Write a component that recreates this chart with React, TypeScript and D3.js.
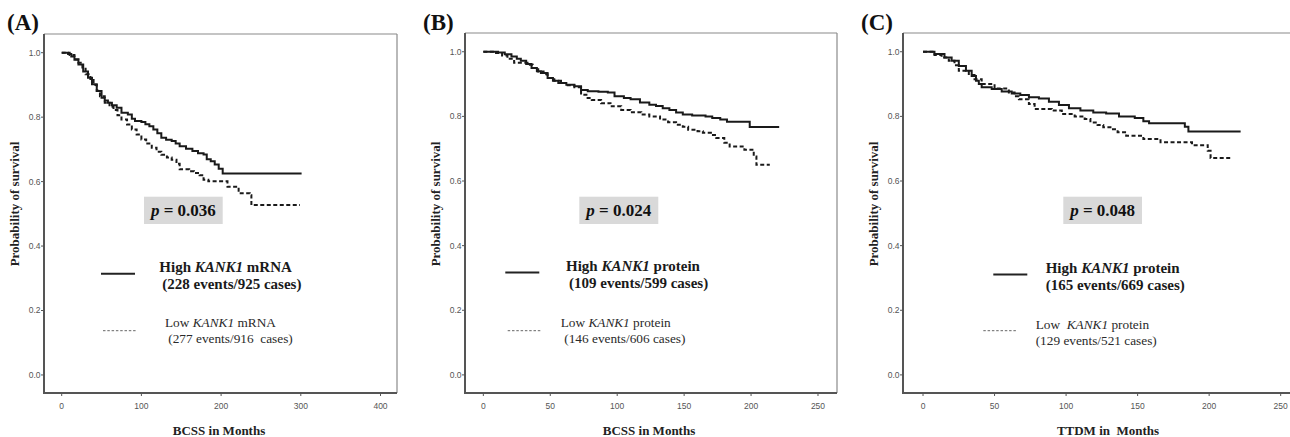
import React from "react";
import * as d3 from "d3";

// tick values
const ticksA = [0, 100, 200, 300, 400];
const ticksBC = [0, 50, 100, 150, 200, 250];
const yTicks = [0, 0.2, 0.4, 0.6, 0.8, 1.0];

// Kaplan-Meier steps: [months, survival]
const aHigh: [number, number][] = [
  [0, 1], [8, 0.996], [12, 0.988], [16, 0.978], [21, 0.963], [27, 0.942], [33, 0.922],
  [38, 0.902], [44, 0.881], [50, 0.86], [54, 0.852], [58, 0.845], [63, 0.837], [69, 0.829],
  [75, 0.814], [83, 0.808], [88, 0.795], [92, 0.788], [100, 0.785], [105, 0.778], [110, 0.772],
  [115, 0.762], [120, 0.75], [125, 0.736], [131, 0.73], [138, 0.726], [143, 0.718], [148, 0.71],
  [156, 0.702], [164, 0.695], [171, 0.688], [178, 0.684], [182, 0.669], [187, 0.663],
  [192, 0.653], [197, 0.64], [202, 0.625], [301, 0.625],
];
const aLow: [number, number][] = [
  [0, 1], [10, 0.993], [16, 0.98], [21, 0.969], [26, 0.95], [30, 0.933], [36, 0.915],
  [40, 0.9], [44, 0.882], [48, 0.865], [54, 0.845], [60, 0.832], [65, 0.822], [70, 0.806],
  [75, 0.793], [82, 0.777], [88, 0.762], [94, 0.746], [100, 0.731], [106, 0.718], [113, 0.705],
  [119, 0.693], [125, 0.683], [132, 0.675], [138, 0.668], [144, 0.655], [148, 0.638],
  [160, 0.632], [166, 0.627], [173, 0.62], [178, 0.606], [184, 0.601], [208, 0.584],
  [222, 0.564], [236, 0.558], [238, 0.527], [299, 0.527],
];
const bHigh: [number, number][] = [
  [0, 1], [11, 0.998], [16, 0.992], [21, 0.985], [25, 0.978], [28, 0.972], [32, 0.962],
  [36, 0.95], [40, 0.94], [43, 0.934], [48, 0.919], [52, 0.91], [56, 0.903], [62, 0.898],
  [68, 0.893], [73, 0.882], [78, 0.878], [86, 0.876], [93, 0.874], [98, 0.862], [105, 0.857],
  [110, 0.853], [117, 0.843], [124, 0.836], [129, 0.832], [134, 0.825], [139, 0.82],
  [144, 0.812], [149, 0.806], [156, 0.803], [166, 0.8], [171, 0.795], [177, 0.79],
  [182, 0.783], [199, 0.767], [221, 0.767],
];
const bLow: [number, number][] = [
  [0, 1], [8, 0.996], [14, 0.988], [18, 0.978], [23, 0.966], [33, 0.96], [37, 0.95],
  [41, 0.939], [45, 0.93], [48, 0.919], [53, 0.91], [58, 0.903], [63, 0.896], [68, 0.89],
  [73, 0.867], [77, 0.857], [81, 0.851], [88, 0.841], [95, 0.831], [103, 0.82], [110, 0.813],
  [118, 0.806], [124, 0.8], [132, 0.79], [138, 0.782], [144, 0.774], [149, 0.768],
  [153, 0.759], [160, 0.754], [164, 0.749], [170, 0.742], [174, 0.733], [180, 0.718],
  [184, 0.707], [195, 0.697], [202, 0.676], [204, 0.65], [214, 0.65],
];
const cHigh: [number, number][] = [
  [0, 1], [8, 0.993], [15, 0.982], [20, 0.972], [25, 0.956], [30, 0.941], [34, 0.925],
  [37, 0.91], [39, 0.9], [41, 0.89], [48, 0.885], [55, 0.877], [62, 0.871], [68, 0.866],
  [74, 0.859], [81, 0.855], [88, 0.845], [95, 0.835], [102, 0.825], [110, 0.818],
  [119, 0.812], [128, 0.809], [137, 0.8], [148, 0.795], [154, 0.785], [158, 0.779],
  [183, 0.768], [185.5, 0.753], [222, 0.753],
];
const cLow: [number, number][] = [
  [0, 1], [8, 0.99], [13, 0.982], [18, 0.972], [22, 0.958], [25, 0.941], [32, 0.928],
  [36, 0.915], [41, 0.9], [50, 0.886], [60, 0.874], [64, 0.862], [67, 0.853], [74, 0.838],
  [78, 0.823], [90, 0.818], [97, 0.807], [106, 0.8], [113, 0.792], [117, 0.781], [122, 0.773],
  [126, 0.766], [131, 0.76], [136, 0.751], [142, 0.74], [154, 0.73], [166, 0.72],
  [188, 0.711], [199, 0.694], [201, 0.671], [215, 0.671],
];

const labels = ["(A)", "(B)", "(C)"];
const pValues = ["0.036", "0.024", "0.048"];
const xTitles = ["BCSS in Months", "BCSS in Months", "TTDM in  Months"];
const markers = ["mRNA", "protein", "protein"];
const highCases = ["(228 events/925 cases)", "(109 events/599 cases)", "(165 events/669 cases)"];
const lowCases = ["(277 events/916  cases)", "(146 events/606 cases)", "(129 events/521 cases)"];
const lowGap = [" ", " ", "  "];

const serif = "'Liberation Serif', 'Times New Roman', serif";
const narrow = "'Liberation Sans Narrow', 'Arial Narrow', 'Liberation Sans', sans-serif";

const panels = [
  {
    left: 44, right: 397, top: 34, bottom: 393, xDomain: [-22.2, 420.7], xTicks: ticksA,
    high: aHigh, low: aLow, labelX: 7, pBox: [144, 222.7], titleX: 219,
    leg: { sx: [101, 135], hx: 159.3, hcx: 162.3, dx: [103, 137], lx: 165, lcx: 168.3, hb: 272.3, lb: 327.3 },
  },
  {
    left: 465, right: 837, top: 33, bottom: 393, xDomain: [-13.7, 264.2], xTicks: ticksBC,
    high: bHigh, low: bLow, labelX: 423, pBox: [579.3, 658.3], titleX: 649,
    leg: { sx: [505.3, 539.3], hx: 566, hcx: 569, dx: [507.7, 541], lx: 560.7, lcx: 564.3, hb: 271, lb: 327.3 },
  },
  {
    left: 903, right: 1301, top: 33, bottom: 393, xDomain: [-14, 264.2], xTicks: ticksBC,
    high: cHigh, low: cLow, labelX: 861, pBox: [1063.3, 1142], titleX: 1108,
    leg: { sx: [993.3, 1027.3], hx: 1045.7, hcx: 1045.7, dx: [983.3, 1016], lx: 1035.7, lcx: 1035.7, hb: 273, lb: 329 },
  },
];

function Panel({ p, i }: { p: (typeof panels)[number]; i: number }) {
  const x = d3.scaleLinear().domain(p.xDomain).range([p.left, p.right]);
  const y = d3.scaleLinear().domain([-0.056, 1.058]).range([p.bottom, p.top]);
  const line = d3
    .line<[number, number]>()
    .x((d) => x(d[0]))
    .y((d) => y(d[1]))
    .curve(d3.curveStepAfter);
  const L = p.leg;

  return (
    <g>
      <text x={p.labelX} y={30} fontFamily={serif} fontWeight="bold" fontSize={23} fill="#111">
        {labels[i]}
      </text>

      {/* frame */}
      <line x1={p.left} x2={p.right} y1={p.top} y2={p.top} stroke="#8a8a8a" strokeWidth={1.2} />
      <line x1={p.right} x2={p.right} y1={p.top} y2={p.bottom} stroke="#8a8a8a" strokeWidth={1.2} />
      <line x1={p.left} x2={p.left} y1={p.top} y2={p.bottom + 1} stroke="#555" strokeWidth={2} />
      <line x1={p.left - 1} x2={p.right} y1={p.bottom} y2={p.bottom} stroke="#555" strokeWidth={2} />

      {/* y axis */}
      {yTicks.map((t) => (
        <g key={t}>
          <line x1={p.left - 3} x2={p.left} y1={y(t)} y2={y(t)} stroke="#555" strokeWidth={1} />
          <text
            x={p.left - 3.5}
            y={y(t)}
            dy="0.35em"
            textAnchor="end"
            fontFamily={narrow}
            fontSize={8.5}
            fill="#555"
          >
            {d3.format(".1f")(t)}
          </text>
        </g>
      ))}

      {/* x axis */}
      {p.xTicks.map((t) => (
        <g key={t}>
          <line x1={x(t)} x2={x(t)} y1={p.bottom} y2={p.bottom + 3} stroke="#555" strokeWidth={1} />
          <text x={x(t)} y={409} textAnchor="middle" fontFamily={narrow} fontSize={8.5} fill="#555">
            {t}
          </text>
        </g>
      ))}

      <text
        transform={`translate(${p.left - 25},204) rotate(-90)`}
        textAnchor="middle"
        fontFamily={serif}
        fontWeight="bold"
        fontSize={13}
        fill="#222"
      >
        Probability of survival
      </text>
      <text
        x={p.titleX}
        y={435}
        textAnchor="middle"
        fontFamily={serif}
        fontWeight="bold"
        fontSize={13}
        fill="#222"
        style={{ whiteSpace: "pre" }}
      >
        {xTitles[i]}
      </text>

      {/* curves */}
      <path d={line(p.high) ?? ""} fill="none" stroke="#1a1a1a" strokeWidth={2} />
      <path
        d={line(p.low) ?? ""}
        fill="none"
        stroke="#1a1a1a"
        strokeWidth={2}
        strokeDasharray="4,2.5"
      />

      {/* p value */}
      <rect x={p.pBox[0]} y={196.7} width={p.pBox[1] - p.pBox[0]} height={27.3} fill="#d9d9d9" />
      <text
        x={(p.pBox[0] + p.pBox[1]) / 2}
        y={216}
        textAnchor="middle"
        fontFamily={serif}
        fontWeight="bold"
        fontSize={17}
        fill="#111"
        style={{ whiteSpace: "pre" }}
      >
        <tspan fontStyle="italic">p</tspan>
        {" = " + pValues[i]}
      </text>

      {/* legend */}
      <line x1={L.sx[0]} x2={L.sx[1]} y1={L.hb + 1.5} y2={L.hb + 1.5} stroke="#222" strokeWidth={2} />
      <text x={L.hx} y={L.hb} fontFamily={serif} fontWeight="bold" fontSize={15} fill="#1a1a1a" style={{ whiteSpace: "pre" }}>
        {"High "}
        <tspan fontStyle="italic">KANK1</tspan>
        {" " + markers[i]}
      </text>
      <text x={L.hcx} y={L.hb + 17} fontFamily={serif} fontWeight="bold" fontSize={15} fill="#1a1a1a">
        {highCases[i]}
      </text>
      <line
        x1={L.dx[0]}
        x2={L.dx[1]}
        y1={330.7}
        y2={330.7}
        stroke="#666"
        strokeWidth={1}
        strokeDasharray="2.5,1.8"
      />
      <text x={L.lx} y={L.lb} fontFamily={serif} fontSize={13.3} fill="#2a2a2a" style={{ whiteSpace: "pre" }}>
        {"Low" + lowGap[i]}
        <tspan fontStyle="italic">KANK1</tspan>
        {" " + markers[i]}
      </text>
      <text x={L.lcx} y={L.lb + 16} fontFamily={serif} fontSize={13.3} fill="#2a2a2a" style={{ whiteSpace: "pre" }}>
        {lowCases[i]}
      </text>
    </g>
  );
}

export default function App() {
  return (
    <svg
      width={1290}
      height={437}
      style={{ position: "absolute", left: 0, top: 0, background: "#fff" }}
    >
      <rect width={1290} height={437} fill="#fff" />
      {panels.map((p, i) => (
        <Panel key={i} p={p} i={i} />
      ))}
    </svg>
  );
}
